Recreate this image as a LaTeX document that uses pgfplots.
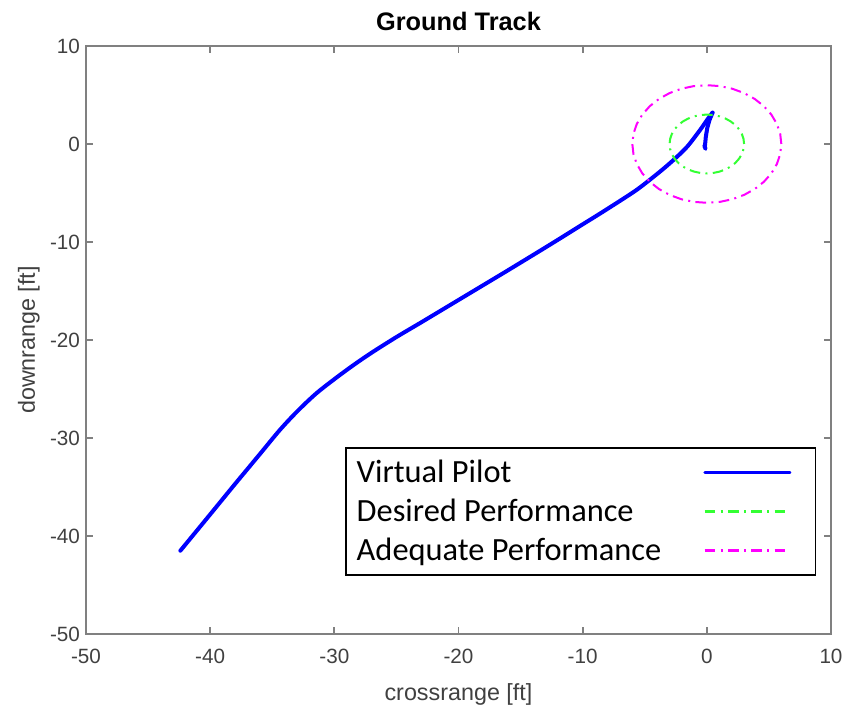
\documentclass[border=0pt]{standalone}
\usepackage{pgfplots}
\pgfplotsset{compat=1.18}
\usepackage{fontspec}
\setmainfont{Liberation Sans}
\newfontfamily\legfont{Carlito}
\usetikzlibrary{calc}
\definecolor{axgray}{RGB}{128,128,128}
\definecolor{tickgray}{RGB}{64,64,64}
\definecolor{desgreen}{RGB}{51,255,51}
\definecolor{adqmag}{RGB}{255,0,255}
\begin{document}
\begin{tikzpicture}
\begin{axis}[
  scale only axis,
  width=558.75pt, height=441pt,
  xmin=-50, xmax=10, ymin=-50, ymax=10,
  xtick={-50,-40,...,10}, ytick={-50,-40,...,10},
  tick align=inside,
  major tick length=5pt,
  axis line style={axgray, line width=1.3pt},
  every tick/.style={axgray, line width=1.3pt},
  /pgf/number format/assume math mode=true,
  tick label style={font=\fontsize{15.5}{18}\selectfont, text=tickgray},
  xticklabel style={yshift=-8pt},
  yticklabel style={xshift=-1pt},
  label style={font=\fontsize{17.5}{20}\selectfont, text=tickgray},
  xlabel={crossrange [ft]},
  ylabel={downrange [ft]},
  xlabel style={yshift=-8pt},
  ylabel style={yshift=1pt},
  title={\bfseries Ground Track},
  title style={font=\fontsize{19}{22}\selectfont\bfseries, yshift=2pt},
  legend plot pos=right,
  legend cell align=left,
  legend style={at={(rel axis cs:0.348,0.099)}, anchor=south west,
    draw=black, line width=1.2pt, font=\legfont\fontsize{24.3}{29}\selectfont,
    inner xsep=6pt, inner ysep=7pt, row sep=7pt},
  legend image code/.code={\draw[#1, line width=2pt] (0cm,0cm) -- (64pt,0cm); \path[draw=none] (0pt,0pt) -- (77pt,0pt);},
]
\addplot[blue, line width=3pt, line join=round, line cap=round, smooth, tension=0.5] coordinates {
(-42.4,-41.5) (-40,-37.8) (-38,-34.7) (-36,-31.65) (-34.4,-29.2)
(-33,-27.3) (-31.5,-25.5) (-30,-24.0) (-28.5,-22.6) (-27,-21.3)
(-25,-19.7) (-23,-18.2) (-20.7,-16.45) (-18,-14.4) (-15.9,-12.8)
(-12.6,-10.25) (-10,-8.2) (-8.6,-7.1) (-6.5,-5.4) (-5.4,-4.45)
(-3.8,-2.85) (-2.7,-1.65) (-1.6,-0.3) (-0.56,1.4) (0.1,2.6) (0.46,3.2)
};
\addlegendentry{\makebox[258pt][l]{Virtual Pilot}}
\addplot[blue, line width=3pt, line join=round, line cap=round, forget plot] coordinates {
(0.46,3.2) (0.2,2.4) (0.03,1.6) (-0.08,0.75) (-0.16,-0.3) (-0.1,-0.5) (-0.2,-0.2)
};
\addplot[desgreen, line width=1.5pt, dash pattern=on 8pt off 4pt on 1.5pt off 4pt] coordinates {
(3,0) (2.954,0.521) (2.819,1.026) (2.598,1.5) (2.298,1.928) (1.928,2.298) (1.5,2.598) (1.026,2.819) (0.521,2.954)
(0,3) (-0.521,2.954) (-1.026,2.819) (-1.5,2.598) (-1.928,2.298) (-2.298,1.928) (-2.598,1.5) (-2.819,1.026) (-2.954,0.521)
(-3,0) (-2.954,-0.521) (-2.819,-1.026) (-2.598,-1.5) (-2.298,-1.928) (-1.928,-2.298) (-1.5,-2.598) (-1.026,-2.819) (-0.521,-2.954)
(0,-3) (0.521,-2.954) (1.026,-2.819) (1.5,-2.598) (1.928,-2.298) (2.298,-1.928) (2.598,-1.5) (2.819,-1.026) (2.954,-0.521) (3,0)
};
\addlegendentry{\makebox[258pt][l]{Desired Performance}}
\addplot[adqmag, line width=1.5pt, dash pattern=on 8pt off 4pt on 1.5pt off 4pt] coordinates {
(6,0) (5.909,1.042) (5.638,2.052) (5.196,3) (4.596,3.857) (3.857,4.596) (3,5.196) (2.052,5.638) (1.042,5.909)
(0,6) (-1.042,5.909) (-2.052,5.638) (-3,5.196) (-3.857,4.596) (-4.596,3.857) (-5.196,3) (-5.638,2.052) (-5.909,1.042)
(-6,0) (-5.909,-1.042) (-5.638,-2.052) (-5.196,-3) (-4.596,-3.857) (-3.857,-4.596) (-3,-5.196) (-2.052,-5.638) (-1.042,-5.909)
(0,-6) (1.042,-5.909) (2.052,-5.638) (3,-5.196) (3.857,-4.596) (4.596,-3.857) (5.196,-3) (5.638,-2.052) (5.909,-1.042) (6,0)
};
\addlegendentry{\makebox[258pt][l]{Adequate Performance}}
\coordinate (ll) at (rel axis cs:0,0);
\coordinate (ur) at (rel axis cs:1,1);
\end{axis}
\pgfresetboundingbox
\path ($(ll)+(-64.5pt,-54pt)$) rectangle ($(ur)+(11.25pt,34.5pt)$);
\end{tikzpicture}
\end{document}
